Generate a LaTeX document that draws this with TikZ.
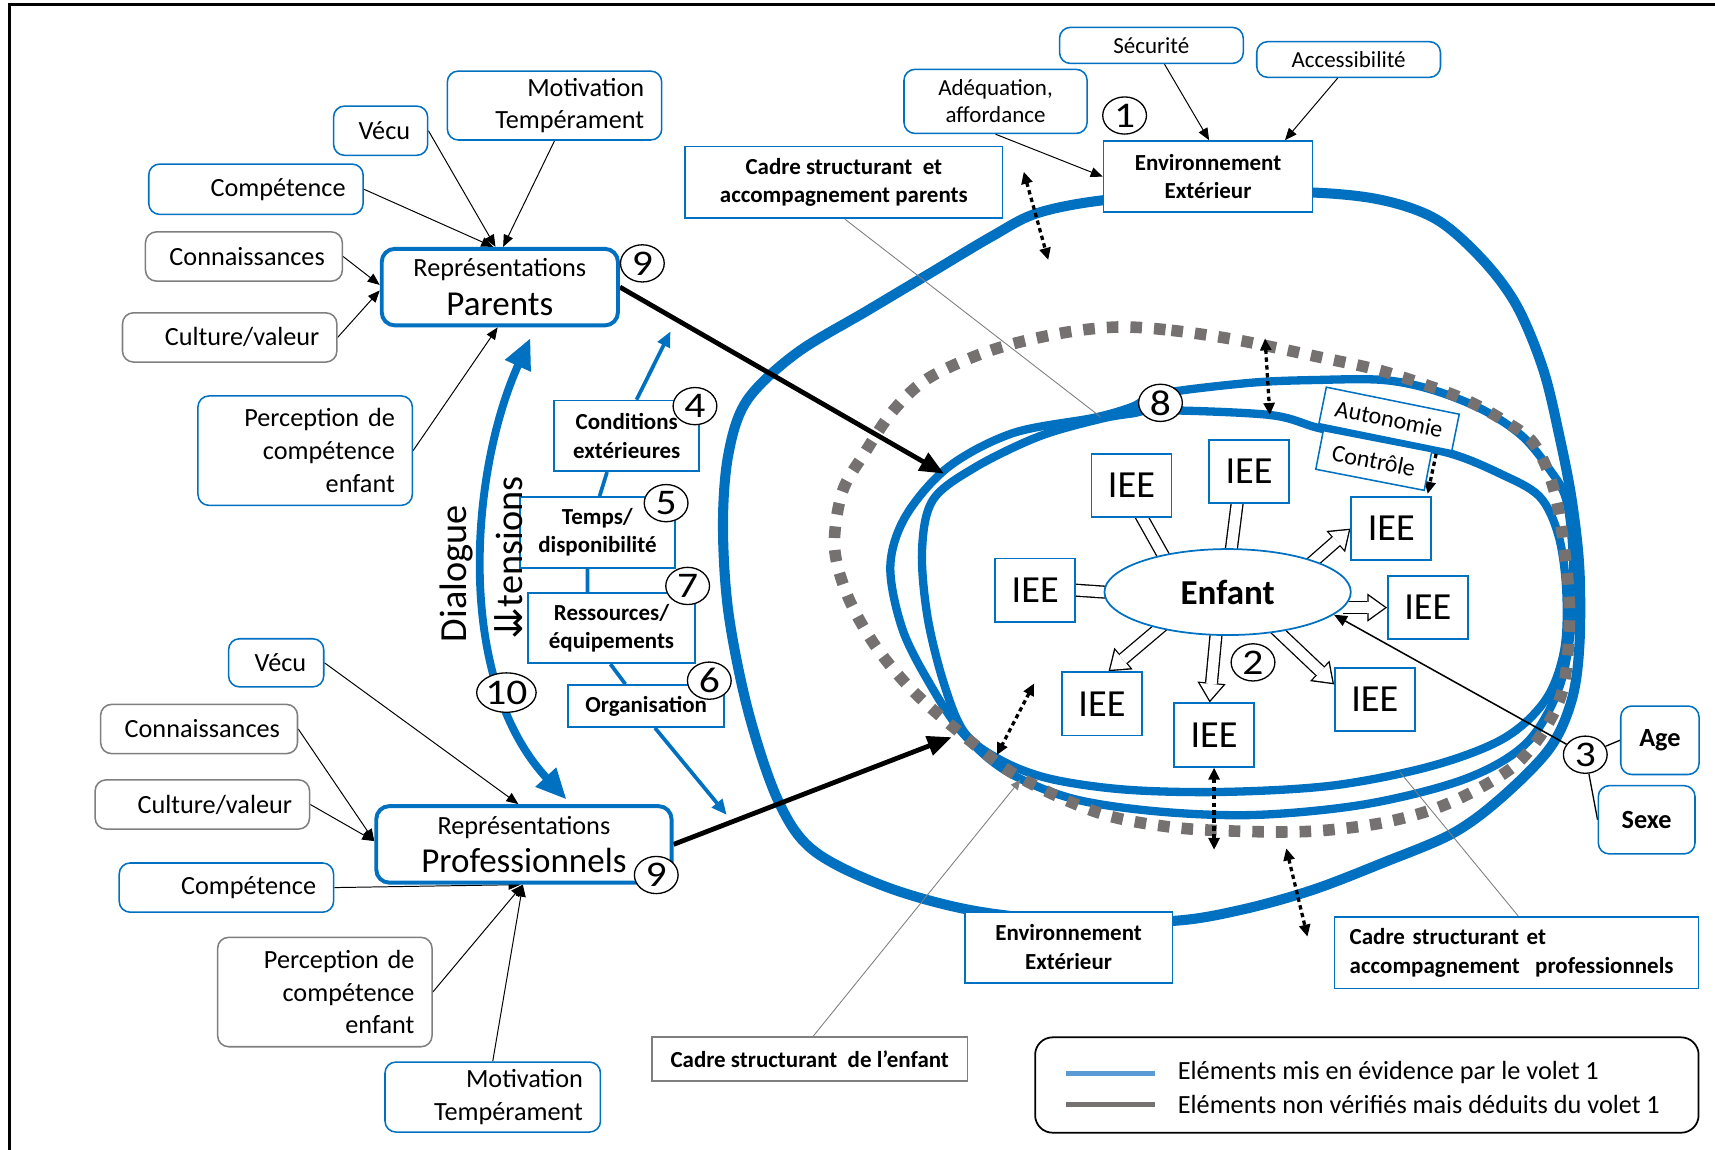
\documentclass[tikz,border=0pt]{standalone}
\usepackage{fontspec}
\setmainfont{Carlito}
\newfontfamily\symfont{DejaVu Sans}
\newfontfamily\numfont[FakeStretch=1.15]{Carlito}
\usetikzlibrary{arrows.meta,calc,shapes.geometric}
\definecolor{bl}{RGB}{0,112,192}
\definecolor{grb}{RGB}{127,127,127}
\definecolor{dg}{RGB}{118,113,113}
\definecolor{lbl}{RGB}{91,155,213}
\pgfdeclarelayer{loops}
\pgfdeclarelayer{conn}
\pgfsetlayers{loops,conn,main}
\tikzset{
 lab/.style={draw=bl, line width=0.7pt, rounded corners=5pt, fill=white, inner sep=0pt, align=right, font=\fontsize{12}{15}\selectfont},
 glab/.style={lab, draw=grb},
 sb/.style={draw=bl, line width=0.8pt, fill=white, inner sep=0pt, align=center, font=\bfseries\fontsize{10.5}{13}\selectfont},
 rb/.style={draw=bl, line width=0.7pt, rounded corners=5pt, fill=white, inner sep=0pt, align=center, font=\fontsize{10.5}{12.5}\selectfont},
 rep/.style={draw=bl, line width=1.8pt, rounded corners=6pt, fill=white, inner sep=0pt, align=center, font=\fontsize{16}{17.5}\selectfont},
 num/.style={ellipse, draw, line width=0.6pt, fill=white, inner sep=0pt, minimum width=20pt, minimum height=17pt, font=\numfont\fontsize{16.5}{16.5}\selectfont},
 iee/.style={draw=bl, line width=0.8pt, fill=white, minimum width=36.5pt, minimum height=29pt, inner sep=0pt, font=\fontsize{17.5}{17.5}\selectfont},
 ar/.style={line width=0.45pt, -{Triangle[length=5.5pt,width=4.5pt]}},
 bk/.style={line width=2.2pt, -{Triangle[length=11pt,width=9pt]}},
 bch/.style={draw=bl, line width=1.7pt},
 dotar/.style={line width=1.5pt, dash pattern=on 2pt off 1.6pt, {Triangle[length=5.5pt,width=5pt]}-{Triangle[length=5.5pt,width=5pt]}},
 hout/.style={line width=6pt, shorten <=-4pt},
 hin/.style={white, line width=4.8pt, shorten <=-5pt},
 houtT/.style={hout, -{Triangle[length=9pt,width=13pt,line width=0pt]}},
 hinT/.style={hin, shorten >=1.03pt, -{Triangle[length=7.4pt,width=10.6pt,line width=0pt]}},
 thn/.style={draw=grb, line width=0.4pt},
}
\begin{document}
\begin{tikzpicture}[x=0.5pt,y=-0.5pt]
\path[use as bounding box] (0,0) rectangle (1568,1051);
\draw[line width=1.4pt] (9,1051) -- (9,4.5) -- (1568,4.5);

% ---------- left top group
\node[lab, minimum width=43pt, minimum height=22.5pt, text width=27pt] (vecuP) at (348,119.5) {Vécu};
\node[lab, minimum width=98pt, minimum height=31.5pt, text width=82pt] (motP) at (507,96.5) {Motivation\\Tempérament};
\node[lab, minimum width=98pt, minimum height=23pt, text width=82pt] (compP) at (234,173) {Compétence};
\node[glab, minimum width=90pt, minimum height=22.5pt, text width=74pt] (connP) at (223,234.5) {Connaissances};
\node[glab, minimum width=98pt, minimum height=22.5pt, text width=82pt] (cultP) at (210,308.5) {Culture/valeur};
\node[lab, minimum width=98pt, minimum height=50pt, text width=82pt] (percP) at (279,412) {Perception de\\compétence\\enfant};
\node[rep, minimum width=108pt, minimum height=35pt] (repP) at (457,262.5) {{\fontsize{12}{14}\selectfont Représentations}\\Parents};
\node[num] (n9a) at (587.3,240.8) {9};

% ---------- left bottom group
\node[lab, minimum width=43.5pt, minimum height=22pt, text width=27.5pt] (vecuR) at (252.5,606) {Vécu};
\node[glab, minimum width=90pt, minimum height=22.5pt, text width=74pt] (connR) at (182,666.5) {Connaissances};
\node[glab, minimum width=98pt, minimum height=22.5pt, text width=82pt] (cultR) at (185,735.5) {Culture/valeur};
\node[lab, minimum width=98pt, minimum height=22.5pt, text width=82pt] (compR) at (207,811.5) {Compétence};
\node[glab, minimum width=98pt, minimum height=50pt, text width=82pt] (percR) at (297,907) {Perception de\\compétence\\enfant};
\node[lab, minimum width=98.5pt, minimum height=32pt, text width=82.5pt] (motR) at (450.5,1003) {Motivation\\Tempérament};
\node[rep, minimum width=135pt, minimum height=35pt] (repR) at (479,772) {{\fontsize{12}{14}\selectfont Représentations}\\Professionnels};
\node[num] (n9b) at (600,800) {9};

% ---------- middle
\node[sb, minimum width=66.3pt, minimum height=32.3pt] (cond) at (573,398.5) {Conditions\\extérieures};
\node[sb, minimum width=70.8pt, minimum height=32.3pt] (temps) at (546.2,486.7) {Temps/\\disponibilité};
\node[sb, minimum width=76.6pt, minimum height=32.2pt] (ress) at (559.1,574.2) {Ressources/\\équipements};
\node[sb, minimum width=71.2pt, minimum height=19.2pt] (orga) at (590.8,645.5) {Organisation};
\node[num] (n4) at (635.4,371.3) {4};
\node[num] (n5) at (609,460) {5};
\node[num] (n7) at (628.7,535.7) {7};
\node[num] (n6) at (648.5,622.3) {6};
\node[num, minimum width=23pt, minimum height=18pt] (n10) at (463,633.2) {10};
\node[rotate=90, inner sep=0pt, font=\fontsize{17.5}{17.5}\selectfont] (dlg) at (417,524.5) {Dialogue};
\node[rotate=90, inner sep=0pt, font=\fontsize{17.5}{17.5}\selectfont] (tns) at (465,510) {{\symfont ⇊}tensions};

% ---------- right top
\node[rb, minimum width=84pt, minimum height=16.5pt] (secu) at (1052.7,41.5) {Sécurité};
\node[rb, minimum width=84pt, minimum height=16.3pt] (acces) at (1233,54.4) {Accessibilité};
\node[rb, minimum width=83.7pt, minimum height=29.3pt] (adeq) at (910.2,92.7) {Adéquation,\\affordance};
\node[num] (n1) at (1028.2,105.6) {1};
\node[sb, minimum width=95.5pt, minimum height=32.5pt] (envT) at (1104.5,161.5) {Environnement\\Extérieur};
\node[sb, minimum width=145pt, minimum height=32.8pt] (cadreP) at (771.5,166.8) {Cadre structurant~ et\\accompagnement parents};

% ---------- bottom
\node[sb, minimum width=95pt, minimum height=32.5pt] (envB) at (977,866) {Environnement\\Extérieur};
\node[sb, minimum width=166.5pt, minimum height=32.8pt, text width=152.5pt, align=left] (cadreR) at (1386.5,871) {Cadre structurant et\\accompagnement~ professionnels};
\node[sb, draw=grb, minimum width=144.3pt, minimum height=20pt] (cadreE) at (740.3,968.4) {Cadre structurant~ de l’enfant};

% ---------- child area
\node[ellipse, draw=bl, line width=0.8pt, fill=white, minimum width=112.6pt, minimum height=39.3pt, inner sep=0pt, font=\bfseries\fontsize{16}{16}\selectfont] (enfant) at (1122.4,541.3) {Enfant};
\node[iee] (ieeA) at (1034.5,444) {IEE};
\node[iee] (ieeB) at (1142,431) {IEE};
\node[iee] (ieeC) at (1272,483.3) {IEE};
\node[iee] (ieeD) at (946.5,539.6) {IEE};
\node[iee] (ieeE) at (1305.4,555.5) {IEE};
\node[iee] (ieeF) at (1007.5,643.5) {IEE};
\node[iee] (ieeG) at (1110,672) {IEE};
\node[iee] (ieeH) at (1257,639.5) {IEE};
\node[draw=bl, line width=0.7pt, fill=white, minimum width=50.5pt, minimum height=18pt, inner sep=0pt, rotate=-11, font=\fontsize{11}{11}\selectfont] (ctrl) at (1256,421) {Contrôle};
\node[draw=bl, line width=0.7pt, fill=white, minimum width=62pt, minimum height=17pt, inner sep=0pt, rotate=-11.5, font=\fontsize{11}{11}\selectfont] (auto) at (1270,383) {Autonomie};
\node[num] (n8) at (1061,368.3) {8};
\node[num] (n2) at (1145.6,605.6) {2};
\node[num] (n3) at (1449.4,690) {3};
\node[draw=bl, line width=0.7pt, rounded corners=5pt, fill=white, minimum width=35.8pt, minimum height=31.3pt, inner sep=0pt, font=\bfseries\fontsize{12}{12}\selectfont] (age) at (1517.6,676.8) {Age};
\node[draw=bl, line width=0.7pt, rounded corners=5pt, fill=white, minimum width=44.2pt, minimum height=31.2pt, inner sep=0pt, font=\bfseries\fontsize{12}{12}\selectfont] (sexe) at (1505.5,749.5) {Sexe};

% ---------- legend
\node[draw, rounded corners=8pt, line width=0.8pt, minimum width=303.3pt, minimum height=43.6pt, inner sep=0pt] (legend) at (1249.7,992) {};
\draw[lbl, line width=2pt] (974.4,981.3) -- (1055.6,981.3);
\draw[dg, line width=2pt] (974.4,1009.7) -- (1055.6,1009.7);
\node[anchor=west, inner sep=0pt, font=\fontsize{12}{12}\selectfont] (lg1) at (1076.5,981) {Eléments mis en évidence par le volet 1};
\node[anchor=west, inner sep=0pt, font=\fontsize{12}{12}\selectfont] (lg2) at (1076.5,1010) {Eléments non vérifiés mais déduits du volet 1};

% ---------- coordinates
\coordinate (tipP) at (863,433);
\coordinate (tipR) at (870,674);
\coordinate (dTop) at (485,309);
\coordinate (dBot) at (518,731);
\coordinate (cTip) at (613,303);
\coordinate (oTip) at (664.4,745);
\coordinate (cpEnd) at (1006,381);
\coordinate (ceEnd) at (933,713);
\coordinate (crEnd) at (1280,706);
\coordinate (da1) at (936,157);   \coordinate (db1) at (958.4,237.7);
\coordinate (da2) at (1156.6,309.3); \coordinate (db2) at (1161,379.4);
\coordinate (da3) at (945.5,624.8); \coordinate (db3) at (911.4,690.3);
\coordinate (db4) at (1110,777);
\coordinate (da5) at (1176,775.6); \coordinate (db5) at (1195.4,856.4);
\coordinate (da6) at (1313,415);
\coordinate (eA) at ($(ieeA.south)+(10,0)$);
\coordinate (eB) at ($(ieeB.south)+(-11,0)$);
\coordinate (eF) at ($(ieeF.north)+(6,0)$);
\coordinate (eG) at ($(ieeG.north)+(-4,0)$);
\coordinate (eH) at ($(ieeH.north west)+(0,16)$);
\coordinate (sE) at (ieeE.west -| enfant.east);
\coordinate (eC6) at ($(ieeC.north east)+(-4,-2)$);

% ---------- loops
\begin{pgfonlayer}{loops}
\draw[bl, line width=4.6pt] plot[smooth cycle, tension=0.55] coordinates {
(1009,183) (948,195) (907,216) (850,250) (793,284) (728,323) (683,366) (666,415) (661,480) (666,560) (684,650) (711,731) (743,777) (808,810) (887,832) (977,842) (1072,842) (1134,832) (1199,814) (1264,789) (1328,762) (1373,729) (1417,684) (1437,640) (1444,590) (1444,520) (1437,457) (1426,400) (1411,338) (1387,280) (1356,238) (1314,201) (1264,183) (1200,176) (1104,176)};
\draw[bl, line width=3.8pt] plot[smooth cycle, tension=0.55] coordinates {
(1061,360) (1143,350) (1204,347.4) (1264.5,347.4) (1310,356.5) (1356,374.8) (1392,399) (1417,429.6) (1432,457) (1438,510) (1437,570) (1425,630) (1395,680) (1340,712) (1250,735) (1150,745) (1060,742) (980,730) (920,705) (880,670) (850,625) (825,575) (814,518) (828,472) (867,427) (926,396) (1000,382) (1035,372)};
\draw[bl, line width=3.8pt] plot[smooth cycle, tension=0.55] coordinates {
(1061,375) (1161,379.4) (1206.8,391.6) (1266,403) (1325.6,414.5) (1371,432.8) (1407.6,454) (1425,490) (1432,540) (1430,595) (1413,640) (1375,675) (1310,700) (1220,718) (1120,724) (1030,722) (960,712) (915,695) (882,670) (863,625) (848,564) (843,503) (853,457) (892,427) (950,399) (1006,383) (1035,378)};
\draw[dg, line width=5.3pt, dash pattern=on 5.3pt off 5.5pt] plot[smooth cycle, tension=0.55] coordinates {
(1021,299) (1071,302) (1132,311) (1204,326) (1259,338) (1304,352) (1341,366) (1374,384) (1402,405) (1420,445) (1430,500) (1435,560) (1430,625) (1414,664) (1387,698) (1350,722) (1310,740) (1260,753) (1199,760) (1134,760) (1069,756) (1004,743) (931,710) (878,670) (834,631) (800,590) (775,545) (763,500) (770,450) (790,415) (817,375) (850,345) (907,320) (968,305)};
\end{pgfonlayer}

% ---------- connectors
\begin{pgfonlayer}{conn}
\draw[ar] (vecuP.east) -- ($(repP.north)+(-4,0)$);
\draw[ar] (motP.south) -- ($(repP.north)+(3,0)$);
\draw[ar] (compP.east) -- ($(repP.north)+(-6,0)$);
\draw[ar] (connP.east) -- ($(repP.west)+(0,-2)$);
\draw[ar] (cultP.east) -- ($(repP.west)+(0,3)$);
\draw[ar] (percP.east) -- ($(repP.south)+(-2,0)$);
\draw[ar] (vecuR.east) -- ($(repR.north)+(-5,0)$);
\draw[ar] (connR.east) -- ($(repR.west)+(0,-3)$);
\draw[ar] (cultR.east) -- ($(repR.west)+(0,-3)$);
\draw[ar] (compR.east) -- ($(repR.south)+(-3,0)$);
\draw[ar] (percR.east) -- ($(repR.south)+(-1,0)$);
\draw[ar] (motR.north) -- ($(repR.south)+(-1,0)$);
\draw[bk] (repP.east) -- (tipP);
\draw[bk] (repR.east) -- (tipR);
\draw[bl, line width=3.6pt, {Triangle[length=14pt,width=12pt]}-{Triangle[length=14pt,width=12pt]}] (dTop) .. controls (430,430) and (415,620) .. (dBot);
\draw[bch, -{Triangle[length=7pt,width=6pt]}] ($(cond.north)+(9,0)$) -- (cTip);
\draw[bch] ($(temps.north)+(2,0)$) -- ($(cond.south)+(-18,0)$);
\draw[bch] ($(temps.south)+(-9,0)$) -- ($(ress.north)+(-22,0)$);
\draw[bch] ($(ress.south)+(-1,0)$) -- ($(orga.north)+(-19,0)$);
\draw[bch, -{Triangle[length=7pt,width=6pt]}] ($(orga.south)+(8,0)$) -- (oTip);
\draw[ar] ($(secu.south)+(12,0)$) -- ($(envT.north)+(1,0)$);
\draw[ar] ($(acces.south)+(-10,0)$) -- ($(envT.north east)+(-26,0)$);
\draw[ar] (adeq.south) -- (envT.west);
\draw[thn] ($(cadreP.south)+(1,0)$) -- (cpEnd);
\draw[thn, -{Triangle[length=4.5pt,width=4pt]}] ($(cadreE.north)+(3,0)$) -- (ceEnd);
\draw[thn] ($(cadreR.north)+(1.5,0)$) -- (crEnd);
\draw[line width=0.7pt, -{Triangle[length=6pt,width=5pt]}] (n3) -- (enfant.-12);
\draw[line width=0.6pt] (n3) -- (age.west);
\draw[line width=0.6pt] (n3) -- (sexe.west);
\draw[dotar] (da1) -- (db1);
\draw[dotar] (da2) -- (db2);
\draw[dotar] (da3) -- (db3);
\draw[dotar] (ieeG.south) -- (db4);
\draw[dotar] (da5) -- (db5);
\draw[line width=1.5pt, dash pattern=on 2pt off 1.6pt, -{Triangle[length=5.5pt,width=5pt]}] (da6) -- (eC6);
% hollow arrows without visible head
\draw[hout, shorten >=-3pt] (enfant.150) -- (eA);
\draw[hin, shorten >=-4pt] (enfant.150) -- (eA);
\draw[hout, shorten >=-3pt] (enfant.85) -- (eB);
\draw[hin, shorten >=-4pt] (enfant.85) -- (eB);
\draw[hout, shorten >=-3pt] (enfant.180) -- (ieeD.east);
\draw[hin, shorten >=-4pt] (enfant.180) -- (ieeD.east);
% hollow arrows with head
\draw[houtT] (enfant.20) -- (ieeC.west);
\draw[hinT] (enfant.20) -- (ieeC.west);
\draw[houtT] (sE) -- (ieeE.west);
\draw[hinT] (sE) -- (ieeE.west);
\draw[houtT] (enfant.208) -- (eF);
\draw[hinT] (enfant.208) -- (eF);
\draw[houtT] (enfant.255) -- (eG);
\draw[hinT] (enfant.255) -- (eG);
\draw[houtT] (enfant.-38) -- (eH);
\draw[hinT] (enfant.-38) -- (eH);
\end{pgfonlayer}
\end{tikzpicture}
\end{document}
